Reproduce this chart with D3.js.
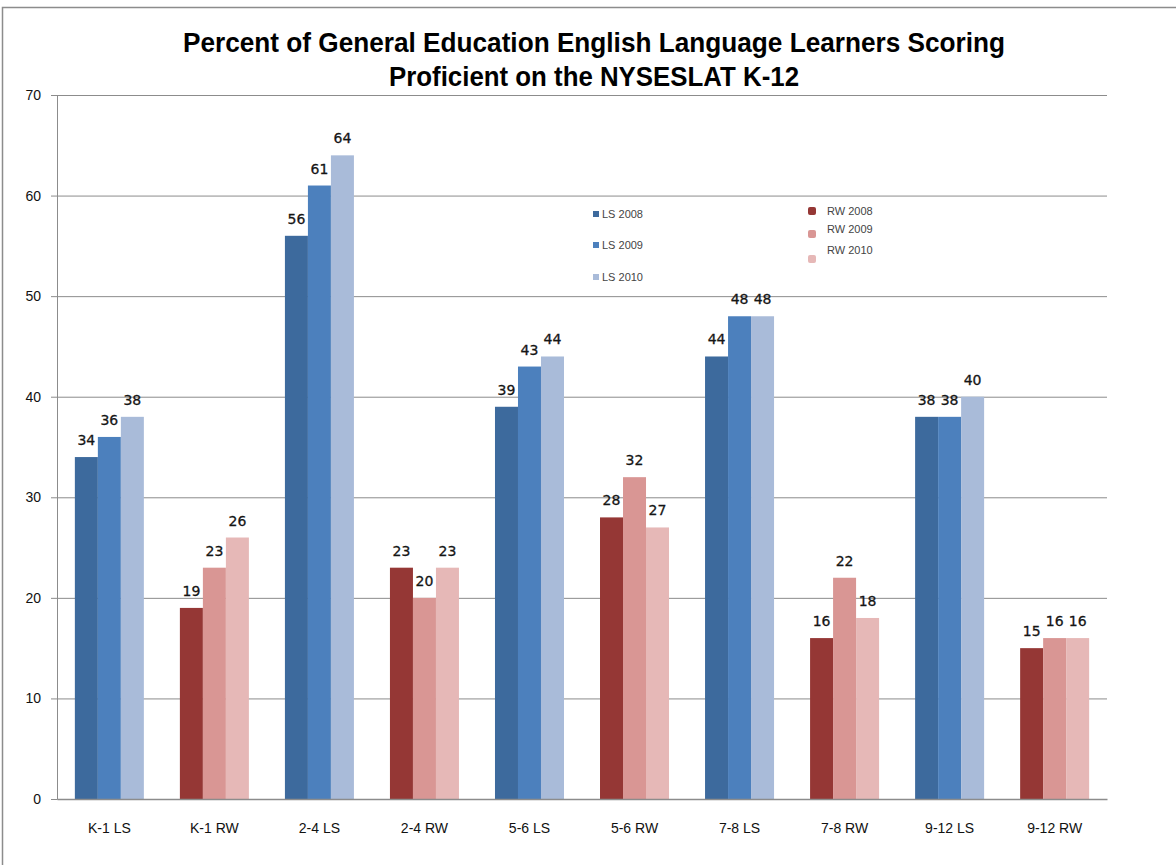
<!DOCTYPE html>
<html><head><meta charset="utf-8">
<script src="https://cdn.jsdelivr.net/npm/d3@7/dist/d3.min.js"></script>
<style>body{margin:0;background:#fff;} svg{display:block;}</style>
</head><body>
<svg id="c" width="1176" height="865"></svg>
<script>
const categories = ["K-1 LS","K-1 RW","2-4 LS","2-4 RW","5-6 LS","5-6 RW","7-8 LS","7-8 RW","9-12 LS","9-12 RW"];
const years = ["2008","2009","2010"];
const values2008 = [34,19,56,23,39,28,44,16,38,15];
const values2009 = [36,23,61,20,43,32,48,22,38,16];
const values2010 = [38,26,64,23,44,27,48,18,40,16];
const yTicks = [0,10,20,30,40,50,60,70];
const lsColors = ["#3d6a9d","#4c80bd","#a9bbd9"];
const rwColors = ["#953735","#d99694","#e6b8b7"];
const lsLegend = ["LS 2008","LS 2009","LS 2010"];
const rwLegend = ["RW 2008","RW 2009","RW 2010"];
const title1 = "Percent of General Education English Language Learners Scoring";
const title2 = "Proficient on the NYSESLAT K-12";

(function(){
const svg = d3.select("#c");
svg.append("path").attr("d","M2.5,865 L2.5,7.5 L1176,7.5").attr("fill","none").attr("stroke","#8c8c8c").attr("stroke-width",1.5);

const pL = 57, pR = 1107, pT = 95, pB = 799;
const x = d3.scaleBand().domain(categories).range([pL,pR]).paddingInner(0.343).paddingOuter(0.17);
const xi = d3.scaleBand().domain(years).range([0,x.bandwidth()]);
const y = d3.scaleLinear().domain([0,70]).range([pB,pT]);

svg.append("g").selectAll("line").data(yTicks.filter(d=>d>0)).join("line")
  .attr("x1",pL).attr("x2",pR).attr("y1",d=>y(d)+0.5).attr("y2",d=>y(d)+0.5)
  .attr("stroke","#8c8c8c").attr("stroke-width",1);

const ya = svg.append("g").attr("transform",`translate(${pL},0)`)
  .call(d3.axisLeft(y).tickValues(yTicks).tickSize(6).tickPadding(10));
ya.select(".domain").attr("stroke","#8c8c8c");
ya.selectAll(".tick line").attr("stroke","#8c8c8c");
ya.selectAll("text").attr("font-family","Liberation Sans, Arial, sans-serif").attr("font-size",14).attr("fill","#111");

const series = [values2008, values2009, values2010];
const data = [];
categories.forEach((c,i)=>{
  years.forEach((yr,j)=>{
    data.push({cat:c, yr:yr, j:j, v:series[j][i], rw:c.endsWith("RW")});
  });
});

svg.append("g").selectAll("rect").data(data).join("rect")
  .attr("x",d=>x(d.cat)+xi(d.yr)).attr("width",xi.bandwidth())
  .attr("y",d=>y(d.v)).attr("height",d=>y(0)-y(d.v))
  .attr("fill",d=>d.rw?rwColors[d.j]:lsColors[d.j]);

svg.append("g").selectAll("text").data(data).join("text")
  .attr("x",d=>x(d.cat)+xi(d.yr)+xi.bandwidth()/2)
  .attr("y",d=>y(d.v)-12)
  .attr("text-anchor","middle")
  .attr("font-family","DejaVu Sans, sans-serif").attr("font-size",14).attr("fill","#151515")
  .attr("stroke","#151515").attr("stroke-width",0.3)
  .text(d=>d.v);

const xa = svg.append("g").attr("transform",`translate(0,${pB})`)
  .call(d3.axisBottom(x).tickSize(0).tickPadding(24));
xa.select(".domain").attr("stroke","#8c8c8c").attr("stroke-width",1.5);
xa.selectAll("text").attr("font-family","Liberation Sans, Arial, sans-serif").attr("font-size",14).attr("fill","#111");

const tf = "Liberation Sans, Arial, sans-serif";
svg.append("text").attr("x",594).attr("y",52).attr("text-anchor","middle")
  .attr("font-family",tf).attr("font-weight","bold").attr("font-size",27).attr("fill","#000")
  .attr("textLength",822).attr("lengthAdjust","spacingAndGlyphs").text(title1);
svg.append("text").attr("x",594).attr("y",86).attr("text-anchor","middle")
  .attr("font-family",tf).attr("font-weight","bold").attr("font-size",27).attr("fill","#000")
  .attr("textLength",410).attr("lengthAdjust","spacingAndGlyphs").text(title2);

const lsY = [214,245,277];
const lg = svg.append("g");
lg.selectAll("rect.ls").data(lsLegend).join("rect").attr("class","ls")
  .attr("x",593).attr("y",(d,i)=>lsY[i]-3).attr("width",6).attr("height",6).attr("fill",(d,i)=>lsColors[i]);
lg.selectAll("text.ls").data(lsLegend).join("text").attr("class","ls")
  .attr("x",602).attr("y",(d,i)=>lsY[i]+4).attr("font-family","Liberation Sans, Arial, sans-serif").attr("font-size",11).attr("fill","#444").text(d=>d);
const rwMY = [211,234,259];
const rwTY = [211,229,250];
lg.selectAll("rect.rw").data(rwLegend).join("rect").attr("class","rw")
  .attr("x",808).attr("y",(d,i)=>rwMY[i]-4).attr("width",8).attr("height",8).attr("rx",2).attr("fill",(d,i)=>rwColors[i]);
lg.selectAll("text.rw").data(rwLegend).join("text").attr("class","rw")
  .attr("x",827).attr("y",(d,i)=>rwTY[i]+4).attr("font-family","Liberation Sans, Arial, sans-serif").attr("font-size",11).attr("fill","#444").text(d=>d);
})();
</script>
</body></html>
